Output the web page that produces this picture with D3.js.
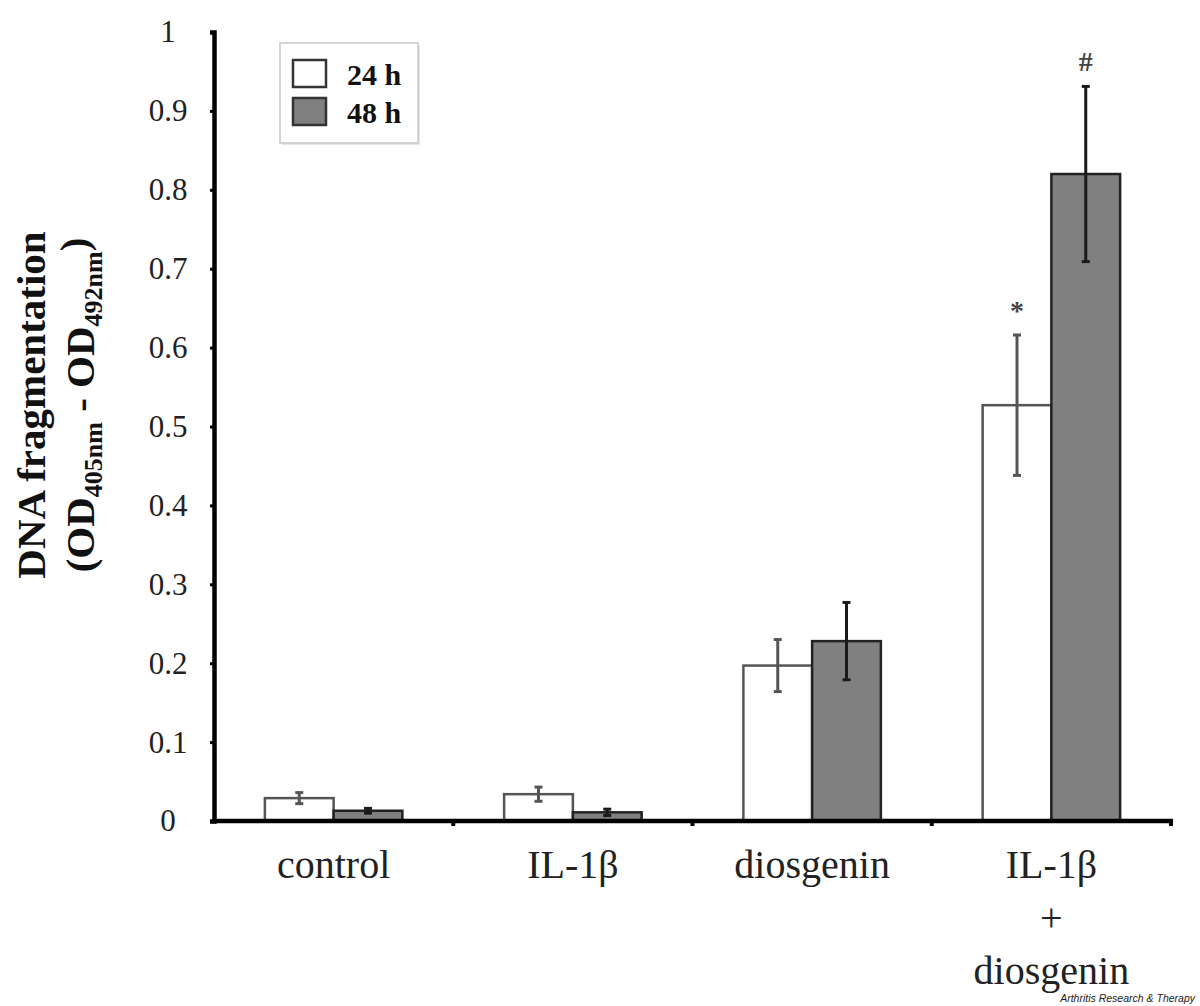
<!DOCTYPE html>
<html>
<head>
<meta charset="utf-8">
<script src="https://cdn.jsdelivr.net/npm/d3@7"></script>
<style>
  body { margin: 0; background: #fff; }
  text { font-family: "Liberation Serif", "Times New Roman", serif; fill: #111; }
  text.credit { font-family: "Liberation Sans", Arial, sans-serif; font-style: italic; }
</style>
</head>
<body>
<div id="chart"></div>
<script>
// data
var groups = ["control", "IL-1β", "diosgenin", "IL-1β + diosgenin"];
var groupLines = [["control"], ["IL-1β"], ["diosgenin"], ["IL-1β", "+", "diosgenin"]];
var series = ["24 h", "48 h"];
var means24 = [0.029, 0.034, 0.197, 0.527];
var errs24 = [0.007, 0.009, 0.033, 0.089];
var means48 = [0.013, 0.011, 0.228, 0.820];
var errs48 = [0.003, 0.004, 0.049, 0.111];
var marks48 = ["", "", "", "#"];
var marks24 = ["", "", "", "*"];
var yTicks = [0, 0.1, 0.2, 0.3, 0.4, 0.5, 0.6, 0.7, 0.8, 0.9, 1];

(function () {
	var W = 1200, H = 1006;
	var margin = {top: 32, left: 214, right: 29, bottom: 185};

	var svg = d3.select("#chart").append("svg")
		.attr("width", W)
		.attr("height", H);

	var y = d3.scaleLinear().domain([0, 1]).range([H - margin.bottom, margin.top]);
	var x0 = d3.scaleBand().domain(groups).range([margin.left, W - margin.right]).padding(0);
	var x1 = d3.scaleBand().domain(series).range([0, x0.bandwidth()]).paddingInner(0).paddingOuter(0.74);

	var rows = groups.map(function (g, i) {
		return [
			{g: g, s: series[0], v: means24[i], e: errs24[i], m: marks24[i]},
			{g: g, s: series[1], v: means48[i], e: errs48[i], m: marks48[i]}
		];
	});

	var fills = {"24 h": "#ffffff", "48 h": "#808080"};
	var strokes = {"24 h": "#555", "48 h": "#222"};
	var errCol = {"24 h": "#555", "48 h": "#1a1a1a"};

	var gGroup = svg.selectAll(".grp")
		.data(rows)
		.enter().append("g")
		.attr("class", "grp")
		.attr("transform", function (d) { return "translate(" + x0(d[0].g) + ",0)"; });

	var bar = gGroup.selectAll(".bar")
		.data(function (d) { return d; })
		.enter().append("g")
		.attr("class", "bar");

	bar.append("rect")
		.attr("x", function (d) { return x1(d.s); })
		.attr("y", function (d) { return y(d.v); })
		.attr("width", x1.bandwidth())
		.attr("height", function (d) { return y(0) - y(d.v); })
		.attr("fill", function (d) { return fills[d.s]; })
		.attr("stroke", function (d) { return strokes[d.s]; })
		.attr("stroke-width", 2.5);

	// error bars
	var cx = function (d) { return x1(d.s) + x1.bandwidth() / 2; };
	bar.append("line")
		.attr("x1", cx).attr("x2", cx)
		.attr("y1", function (d) { return y(d.v + d.e); })
		.attr("y2", function (d) { return y(d.v - d.e); })
		.attr("stroke", function (d) { return errCol[d.s]; })
		.attr("stroke-width", 3);
	[1, -1].forEach(function (sgn) {
		bar.append("line")
			.attr("x1", function (d) { return cx(d) - 4; })
			.attr("x2", function (d) { return cx(d) + 4; })
			.attr("y1", function (d) { return y(d.v + sgn * d.e); })
			.attr("y2", function (d) { return y(d.v + sgn * d.e); })
			.attr("stroke", function (d) { return errCol[d.s]; })
			.attr("stroke-width", 3);
	});

	bar.filter(function (d) { return d.m; })
		.append("text")
		.attr("x", cx)
		.attr("y", function (d) { return y(d.v + d.e) - 15; })
		.attr("text-anchor", "middle")
		.attr("font-size", "28px")
		.attr("font-weight", "bold")
		.style("fill", "#444")
		.text(function (d) { return d.m; });

	// y axis
	var yAxis = svg.append("g")
		.attr("transform", "translate(" + margin.left + ",0)")
		.call(d3.axisLeft(y).tickValues(yTicks).tickSize(4).tickFormat(d3.format("")));
	yAxis.select(".domain").attr("stroke", "#000").attr("stroke-width", 4.5);
	yAxis.selectAll(".tick line").attr("stroke", "#000").attr("stroke-width", 3);
	yAxis.selectAll(".tick text")
		.attr("x", -46)
		.attr("text-anchor", "middle")
		.attr("font-size", "31px")
		.style("fill", "#222");

	// x axis, ticks at band edges
	var xAxis = svg.append("g")
		.attr("transform", "translate(0," + y(0) + ")");
	xAxis.append("line")
		.attr("x1", margin.left - 2).attr("x2", W - margin.right + 2)
		.attr("stroke", "#000").attr("stroke-width", 4.5);
	xAxis.selectAll(".xt")
		.data(groups)
		.enter().append("line")
		.attr("class", "xt")
		.attr("x1", function (d) { return x0(d) + x0.bandwidth(); })
		.attr("x2", function (d) { return x0(d) + x0.bandwidth(); })
		.attr("y1", 0).attr("y2", 5)
		.attr("stroke", "#000").attr("stroke-width", 4);

	var lab = svg.selectAll(".xlab")
		.data(groupLines)
		.enter().append("text")
		.attr("class", "xlab")
		.attr("text-anchor", "middle")
		.attr("font-size", "40px")
		.style("fill", "#222");
	lab.selectAll("tspan")
		.data(function (d, i) { return d.map(function (t) { return {t: t, g: groups[i]}; }); })
		.enter().append("tspan")
		.attr("x", function (d) { return x0(d.g) + x0.bandwidth() / 2; })
		.attr("y", function (d, i) { return y(0) + 57 + i * 53; })
		.text(function (d) { return d.t; });

	// y title
	var title = svg.append("text")
		.attr("transform", "translate(45,405) rotate(-90)")
		.attr("text-anchor", "middle")
		.attr("font-size", "41px")
		.attr("font-weight", "bold");
	title.append("tspan").attr("x", 0).attr("y", 0).text("DNA fragmentation");
	var t2 = svg.append("text")
		.attr("transform", "translate(94,405) rotate(-90)")
		.attr("text-anchor", "middle")
		.attr("font-size", "41px")
		.attr("font-weight", "bold");
	t2.append("tspan").text("(OD");
	t2.append("tspan").attr("font-size", "26px").attr("dy", 8).text("405nm");
	t2.append("tspan").attr("dy", -8).text(" - OD");
	t2.append("tspan").attr("font-size", "26px").attr("dy", 8).text("492nm");
	t2.append("tspan").attr("dy", -14).text(")");

	// legend
	var lg = svg.append("g").attr("transform", "translate(280,43)");
	lg.append("rect")
		.attr("x", 2).attr("y", 2)
		.attr("width", 138).attr("height", 100)
		.attr("fill", "#e6e6e6");
	lg.append("rect")
		.attr("width", 138).attr("height", 100)
		.attr("fill", "#fff")
		.attr("stroke", "#c8c8c8").attr("stroke-width", 1.5);
	var li = lg.selectAll(".li")
		.data(series)
		.enter().append("g")
		.attr("class", "li")
		.attr("transform", function (d, i) { return "translate(13," + (17 + i * 38) + ")"; });
	li.append("rect")
		.attr("width", 33).attr("height", 27)
		.attr("fill", function (d) { return fills[d]; })
		.attr("stroke", "#333").attr("stroke-width", 2.5);
	li.append("text")
		.attr("x", 54).attr("y", 25)
		.attr("font-size", "30px")
		.attr("font-weight", "bold")
		.text(function (d) { return d; });

	svg.append("text")
		.attr("class", "credit")
		.attr("x", 1195).attr("y", 1002)
		.attr("text-anchor", "end")
		.attr("font-size", "10.5px")
		.style("fill", "#222")
		.text("Arthritis Research & Therapy");
})();
</script>
</body>
</html>
